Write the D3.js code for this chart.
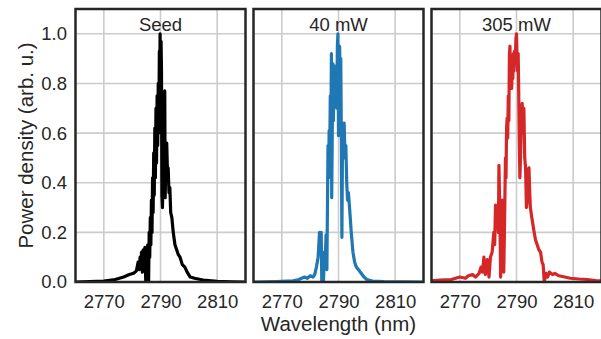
<!DOCTYPE html>
<html>
<head>
<meta charset="utf-8">
<script src="https://cdn.jsdelivr.net/npm/d3@7"></script>
<style>
  body { margin: 0; background: #fff; }
  svg { font-family: "Liberation Sans", Arial, sans-serif; }
</style>
</head>
<body>
<div id="chart"></div>
<script>
// spectra, [wavelength nm, normalised power density]
const seedSpectrum = [
  [2760, 0], [2765, 0.002], [2770, 0.004], [2774, 0.01], [2777, 0.02], [2779, 0.03],
  [2780.5, 0.035], [2781.5, 0.045], [2782.1, 0.08], [2782.5, 0.05], [2782.8, 0.1], [2783.1, 0.06],
  [2783.3, 0.12], [2783.6, 0.04], [2783.9, 0.13], [2784.2, 0.07], [2784.5, 0.14], [2784.8, 0.0],
  [2785.0, 0.13], [2785.3, 0.06], [2785.5, 0.15], [2785.8, 0.0], [2786.0, 0.2], [2786.2, 0.1],
  [2786.4, 0.26], [2786.6, 0.15], [2786.8, 0.33], [2787.0, 0.2], [2787.2, 0.42], [2787.4, 0.28],
  [2787.6, 0.52], [2787.8, 0.35], [2788.0, 0.62], [2788.2, 0.42], [2788.4, 0.7], [2788.6, 0.48],
  [2788.8, 0.75], [2789.0, 0.55], [2789.2, 0.8], [2789.4, 0.6], [2789.6, 0.93], [2789.7, 0.7],
  [2789.85, 1.0], [2790.0, 0.75], [2790.2, 0.97], [2790.35, 0.85], [2790.5, 0.35], [2790.7, 0.3],
  [2790.9, 0.45], [2791.1, 0.5], [2791.3, 0.7], [2791.5, 0.77], [2791.65, 0.34], [2791.9, 0.5],
  [2792.2, 0.56], [2792.5, 0.42], [2792.7, 0.46], [2793.0, 0.36], [2793.3, 0.38], [2793.6, 0.28],
  [2794.0, 0.26], [2794.5, 0.2], [2795.1, 0.15], [2795.7, 0.13], [2796.3, 0.11], [2796.9, 0.1],
  [2797.7, 0.07], [2798.6, 0.06], [2799.4, 0.04], [2800.5, 0.02], [2802, 0.015], [2805, 0.008],
  [2810, 0.003], [2815, 0.001], [2820, 0]
];

const spectrum40 = [
  [2760, 0], [2768, 0.002], [2774, 0.005], [2776, 0.01], [2778, 0.02], [2779, 0.015],
  [2780, 0.025], [2781, 0.02], [2781.6, 0.03], [2782.2, 0.06], [2782.8, 0.1], [2783.3, 0.2],
  [2783.6, 0.12], [2783.9, 0.2], [2784.1, 0.0], [2784.4, 0.1], [2784.7, 0.0], [2785.0, 0.12],
  [2785.3, 0.08], [2785.6, 0.19], [2785.9, 0.05], [2786.1, 0.3], [2786.3, 0.55], [2786.5, 0.42],
  [2786.7, 0.61], [2786.9, 0.5], [2787.1, 0.75], [2787.3, 0.6], [2787.5, 0.92], [2787.6, 0.34],
  [2787.8, 0.6], [2788.0, 0.88], [2788.2, 0.65], [2788.4, 0.85], [2788.6, 0.72], [2788.8, 0.87],
  [2789.0, 0.75], [2789.2, 0.8], [2789.4, 0.7], [2789.6, 0.95], [2789.8, 1.0], [2790.0, 0.59],
  [2790.2, 0.85], [2790.4, 0.95], [2790.6, 0.75], [2790.8, 0.9], [2791.0, 0.6], [2791.2, 0.18],
  [2791.4, 0.55], [2791.7, 0.62], [2792.0, 0.64], [2792.3, 0.5], [2792.6, 0.55], [2792.9, 0.4],
  [2793.2, 0.33], [2793.5, 0.36], [2793.9, 0.3], [2794.2, 0.25], [2794.5, 0.2], [2795.1, 0.12],
  [2795.7, 0.08], [2796.3, 0.06], [2797, 0.05], [2798, 0.035], [2799, 0.02], [2800, 0.01],
  [2802, 0.004], [2806, 0.002], [2820, 0]
];

const spectrum305 = [
  [2760, 0.005], [2763, 0.008], [2767, 0.01], [2770, 0.02], [2772, 0.015], [2773, 0.025],
  [2774.5, 0.03], [2775.5, 0.02], [2776.8, 0.035], [2777.5, 0.06], [2778, 0.04], [2778.5, 0.1],
  [2779, 0.03], [2779.7, 0.09], [2780, 0.05], [2780.3, 0.02], [2780.8, 0.1], [2781.4, 0.12],
  [2782, 0.2], [2782.3, 0.15], [2782.6, 0.31], [2783, 0.27], [2783.3, 0.3], [2783.6, 0.2],
  [2783.8, 0.47], [2784.1, 0.3], [2784.4, 0.02], [2784.7, 0.2], [2785, 0.33], [2785.2, 0.2],
  [2785.5, 0.04], [2785.8, 0.25], [2786.1, 0.5], [2786.3, 0.42], [2786.5, 0.62], [2786.7, 0.66],
  [2786.9, 0.58], [2787.1, 0.75], [2787.3, 0.65], [2787.5, 0.92], [2787.7, 0.95], [2787.9, 0.8],
  [2788.1, 0.9], [2788.3, 0.78], [2788.5, 0.88], [2788.7, 0.82], [2788.9, 0.92], [2789.1, 0.85],
  [2789.3, 0.93], [2789.5, 0.88], [2789.8, 0.98], [2790.0, 1.0], [2790.2, 0.9], [2790.4, 0.85],
  [2790.6, 0.92], [2790.8, 0.75], [2791.0, 0.55], [2791.2, 0.42], [2791.4, 0.5], [2791.7, 0.65],
  [2792.0, 0.72], [2792.3, 0.6], [2792.6, 0.7], [2792.9, 0.5], [2793.2, 0.46], [2793.5, 0.3],
  [2793.8, 0.33], [2794.1, 0.45], [2794.4, 0.46], [2794.7, 0.35], [2794.9, 0.3], [2795.4, 0.26],
  [2796.1, 0.21], [2796.7, 0.17], [2797.3, 0.15], [2797.9, 0.13], [2798.5, 0.12], [2799.0, 0.08],
  [2799.4, 0.07], [2799.8, 0.0], [2800.4, 0.035], [2801, 0.02], [2801.6, 0.04], [2802.7, 0.03],
  [2803.5, 0.035], [2805, 0.025], [2807, 0.02], [2809, 0.015], [2812, 0.012], [2815, 0.01],
  [2818, 0.006], [2820, 0.005]
];

const panelTitles = ['Seed', '40 mW', '305 mW'];
const panelColors = ['#000000', '#1f77b4', '#d62728'];
const panelData = [seedSpectrum, spectrum40, spectrum305];
const xTicks = [2770, 2790, 2810];
const yTicks = [0, 0.2, 0.4, 0.6, 0.8, 1.0];

const width = 601, height = 339;
const margin = { top: 9, left: 75.5, bottom: 57 };
const panelWidth = 170, panelStep = 178;
const plotHeight = height - margin.top - margin.bottom;
const textColor = '#262626';

const svg = d3.select('#chart').append('svg')
  .attr('width', width)
  .attr('height', height);

const yScale = d3.scaleLinear().domain([0, 1.1]).range([plotHeight, 0]);

panelData.forEach((data, i) => {
  const xScale = d3.scaleLinear().domain([2760, 2820]).range([0, panelWidth]);
  const g = svg.append('g')
    .attr('transform', `translate(${margin.left + i * panelStep},${margin.top})`);

  // grid
  g.append('g')
    .selectAll('line.vgrid')
    .data(xTicks)
    .join('line')
      .attr('x1', d => xScale(d)).attr('x2', d => xScale(d))
      .attr('y1', 0).attr('y2', plotHeight)
      .attr('stroke', '#cccccc').attr('stroke-width', 1.6);
  g.append('g')
    .selectAll('line.hgrid')
    .data(yTicks)
    .join('line')
      .attr('x1', 0).attr('x2', panelWidth)
      .attr('y1', d => yScale(d)).attr('y2', d => yScale(d))
      .attr('stroke', '#cccccc').attr('stroke-width', 1.6);

  g.append('clipPath').attr('id', 'clip' + i)
    .append('rect').attr('width', panelWidth).attr('height', plotHeight);

  g.append('path')
    .datum(data)
    .attr('clip-path', `url(#clip${i})`)
    .attr('fill', 'none')
    .attr('stroke', panelColors[i])
    .attr('stroke-width', 3.2)
    .attr('stroke-linejoin', 'round')
    .attr('d', d3.line()
      .x(d => xScale(d[0]))
      .y(d => yScale(d[1])));

  // x axis
  const xAxis = g.append('g')
    .attr('transform', `translate(0,${plotHeight})`)
    .call(d3.axisBottom(xScale).tickValues(xTicks).tickSize(0).tickPadding(13).tickFormat(d3.format('d')));
  xAxis.select('.domain').remove();
  xAxis.selectAll('text').attr('font-size', 18.5).attr('fill', textColor).attr('font-family', null);

  if (i === 0) {
    const yAxis = g.append('g')
      .call(d3.axisLeft(yScale).tickValues(yTicks).tickSize(0).tickPadding(8.5).tickFormat(d3.format('.1f')));
    yAxis.select('.domain').remove();
    yAxis.selectAll('text').attr('font-size', 18.5).attr('fill', textColor).attr('font-family', null);
  }

  g.append('rect')
    .attr('width', panelWidth).attr('height', plotHeight)
    .attr('fill', 'none').attr('stroke', '#262626').attr('stroke-width', 2.5);

  g.append('text')
    .attr('x', panelWidth / 2).attr('y', 21.5)
    .attr('text-anchor', 'middle')
    .attr('font-size', 18.5)
    .attr('fill', textColor)
    .text(panelTitles[i]);
});

svg.append('text')
  .attr('x', margin.left + panelStep + panelWidth / 2)
  .attr('y', 331)
  .attr('text-anchor', 'middle')
  .attr('font-size', 20.5)
  .attr('fill', textColor)
  .text('Wavelength (nm)');

svg.append('text')
  .attr('transform', `translate(33,${margin.top + plotHeight / 2}) rotate(-90)`)
  .attr('text-anchor', 'middle')
  .attr('font-size', 20.5)
  .attr('fill', textColor)
  .text('Power density (arb. u.)');
</script>
</body>
</html>
